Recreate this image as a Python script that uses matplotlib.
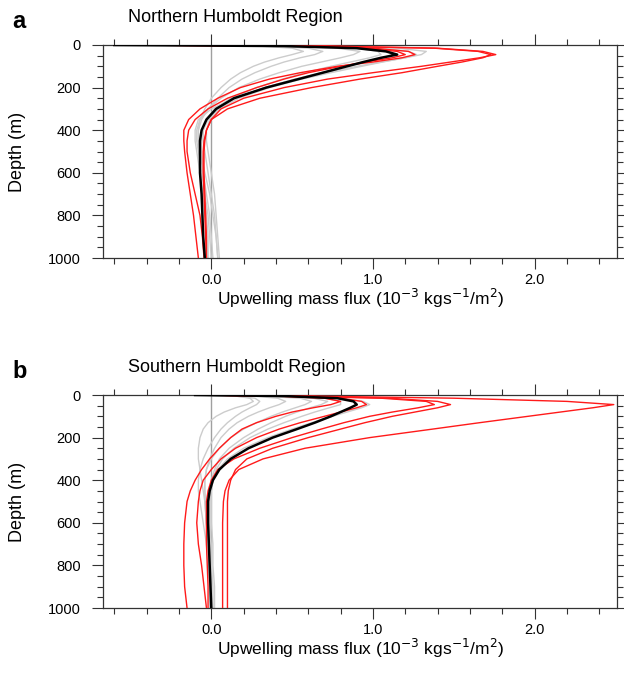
import matplotlib
matplotlib.use("Agg")
from matplotlib import pyplot as plt
from matplotlib.ticker import MultipleLocator, FixedLocator
import numpy as np

plt.rcParams['font.family'] = ['Liberation Sans', 'DejaVu Sans']

# depth levels (m), shared by every profile
depth = [0, 5, 15, 30, 45, 60, 80, 100, 130, 160, 200, 250, 300, 350, 400, 450, 500, 600, 700, 800, 900, 1000]

# ---- Northern Humboldt Region ----
north_mean = [-0.6, 0.45, 0.9, 1.08, 1.15, 1.05, 0.94, 0.84, 0.69, 0.54, 0.34, 0.14, 0.03, -0.03, -0.06, -0.07, -0.07, -0.07, -0.06, -0.055, -0.05, -0.04]
north_red = [
    [-0.6, 0.7, 1.4, 1.68, 1.76, 1.66, 1.48, 1.30, 1.00, 0.72, 0.45, 0.20, 0.06, 0.0, -0.03, -0.045, -0.05, -0.05, -0.045, -0.04, -0.035, -0.03],
    [-0.6, 0.7, 1.38, 1.65, 1.73, 1.68, 1.55, 1.40, 1.18, 0.92, 0.62, 0.30, 0.10, 0.0, -0.03, -0.04, -0.045, -0.045, -0.04, -0.035, -0.03, -0.03],
    [-0.6, 0.5, 1.0, 1.22, 1.26, 1.18, 1.0, 0.78, 0.55, 0.36, 0.18, 0.04, -0.07, -0.14, -0.17, -0.17, -0.165, -0.15, -0.13, -0.11, -0.095, -0.08],
    [-0.6, 0.5, 0.95, 1.15, 1.2, 1.12, 0.95, 0.8, 0.6, 0.45, 0.28, 0.1, -0.02, -0.1, -0.14, -0.15, -0.15, -0.13, -0.1, -0.07, -0.055, -0.045],
]
north_gray = [
    [-0.2, 0.3, 0.5, 0.57, 0.5, 0.42, 0.33, 0.26, 0.18, 0.12, 0.06, 0.0, -0.04, -0.07, -0.08, -0.08, -0.07, -0.05, -0.03, -0.01, 0.0, 0.01],
    [-0.2, 0.35, 0.6, 0.69, 0.64, 0.55, 0.45, 0.37, 0.27, 0.19, 0.11, 0.04, -0.02, -0.06, -0.08, -0.08, -0.07, -0.04, -0.01, 0.01, 0.03, 0.04],
    [-0.2, 0.45, 0.78, 0.92, 0.88, 0.8, 0.68, 0.56, 0.42, 0.3, 0.17, 0.06, -0.02, -0.07, -0.09, -0.09, -0.08, -0.06, -0.04, -0.02, -0.01, 0.0],
    [-0.3, 0.5, 0.9, 1.03, 1.05, 0.98, 0.86, 0.74, 0.58, 0.44, 0.28, 0.12, 0.02, -0.03, -0.05, -0.05, -0.04, -0.02, 0.0, 0.02, 0.03, 0.04],
    [-0.3, 0.6, 1.05, 1.22, 1.27, 1.2, 1.06, 0.93, 0.74, 0.56, 0.36, 0.17, 0.05, -0.01, -0.03, -0.03, -0.02, 0.0, 0.02, 0.03, 0.04, 0.05],
    [-0.3, 0.65, 1.15, 1.33, 1.3, 1.2, 1.05, 0.9, 0.7, 0.52, 0.33, 0.15, 0.04, -0.02, -0.05, -0.06, -0.06, -0.05, -0.04, -0.03, -0.02, -0.02],
    [-0.3, 0.55, 0.95, 1.09, 1.12, 1.06, 0.95, 0.84, 0.68, 0.52, 0.33, 0.14, 0.0, -0.08, -0.1, -0.1, -0.09, -0.07, -0.05, -0.04, -0.03, -0.02],
]

# ---- Southern Humboldt Region ----
south_mean = [-0.1, 0.45, 0.78, 0.88, 0.90, 0.86, 0.80, 0.74, 0.64, 0.53, 0.38, 0.23, 0.12, 0.05, 0.01, -0.01, -0.02, -0.02, -0.015, -0.01, -0.005, 0.0]
south_red = [
    [-0.1, 0.6, 1.5, 2.2, 2.49, 2.36, 2.16, 1.96, 1.66, 1.37, 0.98, 0.58, 0.32, 0.17, 0.11, 0.085, 0.075, 0.07, 0.07, 0.07, 0.07, 0.07],
    [-0.1, 0.5, 1.1, 1.4, 1.48, 1.40, 1.26, 1.12, 0.95, 0.80, 0.60, 0.38, 0.22, 0.15, 0.12, 0.105, 0.1, 0.1, 0.1, 0.1, 0.1, 0.1],
    [-0.1, 0.5, 1.05, 1.33, 1.38, 1.28, 1.12, 0.98, 0.82, 0.68, 0.50, 0.30, 0.14, 0.04, 0.0, -0.02, -0.03, -0.03, -0.03, -0.025, -0.02, -0.02],
    [-0.1, 0.45, 0.8, 0.93, 0.96, 0.9, 0.8, 0.7, 0.55, 0.42, 0.28, 0.15, 0.06, 0.0, -0.05, -0.07, -0.08, -0.09, -0.08, -0.06, -0.045, -0.03],
    [-0.1, 0.4, 0.7, 0.8, 0.74, 0.63, 0.5, 0.4, 0.28, 0.19, 0.12, 0.05, -0.01, -0.06, -0.1, -0.13, -0.15, -0.165, -0.17, -0.17, -0.165, -0.15],
]
south_gray = [
    [-0.1, 0.15, 0.24, 0.26, 0.22, 0.15, 0.08, 0.03, -0.02, -0.05, -0.07, -0.08, -0.08, -0.07, -0.06, -0.05, -0.04, -0.03, -0.02, -0.02, -0.01, -0.01],
    [-0.1, 0.15, 0.27, 0.30, 0.28, 0.24, 0.19, 0.15, 0.1, 0.06, 0.02, -0.02, -0.05, -0.07, -0.08, -0.08, -0.07, -0.05, -0.03, -0.02, -0.01, 0.0],
    [-0.1, 0.25, 0.41, 0.46, 0.42, 0.36, 0.29, 0.23, 0.16, 0.11, 0.06, 0.02, -0.01, -0.03, -0.04, -0.04, -0.04, -0.03, -0.02, -0.01, 0.0, 0.0],
    [-0.1, 0.3, 0.55, 0.62, 0.58, 0.52, 0.44, 0.37, 0.28, 0.2, 0.12, 0.05, 0.0, -0.03, -0.04, -0.04, -0.035, -0.03, -0.02, -0.01, 0.0, 0.01],
    [-0.1, 0.35, 0.63, 0.72, 0.68, 0.61, 0.53, 0.46, 0.37, 0.29, 0.2, 0.11, 0.05, 0.02, 0.0, -0.01, -0.01, -0.01, 0.0, 0.0, 0.01, 0.01],
    [-0.1, 0.4, 0.7, 0.8, 0.8, 0.73, 0.64, 0.56, 0.45, 0.35, 0.24, 0.14, 0.07, 0.03, 0.01, 0.0, 0.0, 0.0, 0.01, 0.01, 0.02, 0.02],
    [-0.1, 0.45, 0.8, 0.94, 0.98, 0.93, 0.84, 0.75, 0.62, 0.5, 0.35, 0.2, 0.1, 0.04, 0.01, 0.0, -0.01, -0.01, -0.01, 0.0, 0.0, 0.0],
]

xticks = [0.0, 1.0, 2.0]
xticklabels = ["0.0", "1.0", "2.0"]
yticks = [0, 200, 400, 600, 800, 1000]

W, H = 624, 683


def draw_panel(ax, gray, red, mean):
    ax.axvline(0, color="#a0a0a0", lw=1.0, zorder=1)
    for g in gray:
        ax.plot(g, depth, color="#cccccc", lw=1.0, zorder=2)
    for r in red:
        ax.plot(r, depth, color="#ff1a1a", lw=1.0, zorder=3)
    ax.plot(mean, depth, color="black", lw=1.8, zorder=4)

    ax.set_xlim(-0.67, 2.51)
    ax.set_ylim(1000, 0)
    ax.xaxis.set_major_locator(FixedLocator(xticks))
    ax.set_xticklabels(xticklabels)
    ax.xaxis.set_minor_locator(MultipleLocator(0.2))
    ax.yaxis.set_major_locator(FixedLocator(yticks))
    ax.yaxis.set_minor_locator(MultipleLocator(50))
    ax.tick_params(which="both", direction="out", top=True, right=True,
                   colors="#333333", width=0.8, labelsize=10.5, labelcolor="black")
    ax.tick_params(which="major", length=8)
    ax.tick_params(which="minor", length=4)
    ax.tick_params(axis="y", which="major", pad=8)
    ax.tick_params(axis="x", which="major", pad=2.5)
    for s in ax.spines.values():
        s.set_linewidth(0.9)
        s.set_color("#333333")
    ax.set_ylabel("Depth (m)", fontsize=13, labelpad=16)


fig = plt.figure(figsize=(W / 100, H / 100), dpi=100)

left, right = 103, 617
panels = [
    (45, 258, "a", "Northern Humboldt Region", north_gray, north_red, north_mean),
    (395, 608, "b", "Southern Humboldt Region", south_gray, south_red, south_mean),
]
for top, bottom, letter, title, gray, red, mean in panels:
    ax = fig.add_axes([left / W, 1 - bottom / H, (right - left) / W, (bottom - top) / H])
    draw_panel(ax, gray, red, mean)
    # x label placed by its baseline so the superscripts do not push it down
    fig.text((left + right) / 2 / W, 1 - (bottom + 47) / H,
             "Upwelling mass flux (10$^{-3}$ kgs$^{-1}$/m$^{2}$)",
             fontsize=12.5, ha="center", va="baseline")
    fig.text(128 / W, 1 - (top - 27) / H, title, fontsize=13, va="center", ha="left")
    fig.text(12 / W, 1 - (top - 23) / H, letter, fontsize=17, fontweight="bold", va="center", ha="left")

fig.savefig("out.png", dpi=100)
